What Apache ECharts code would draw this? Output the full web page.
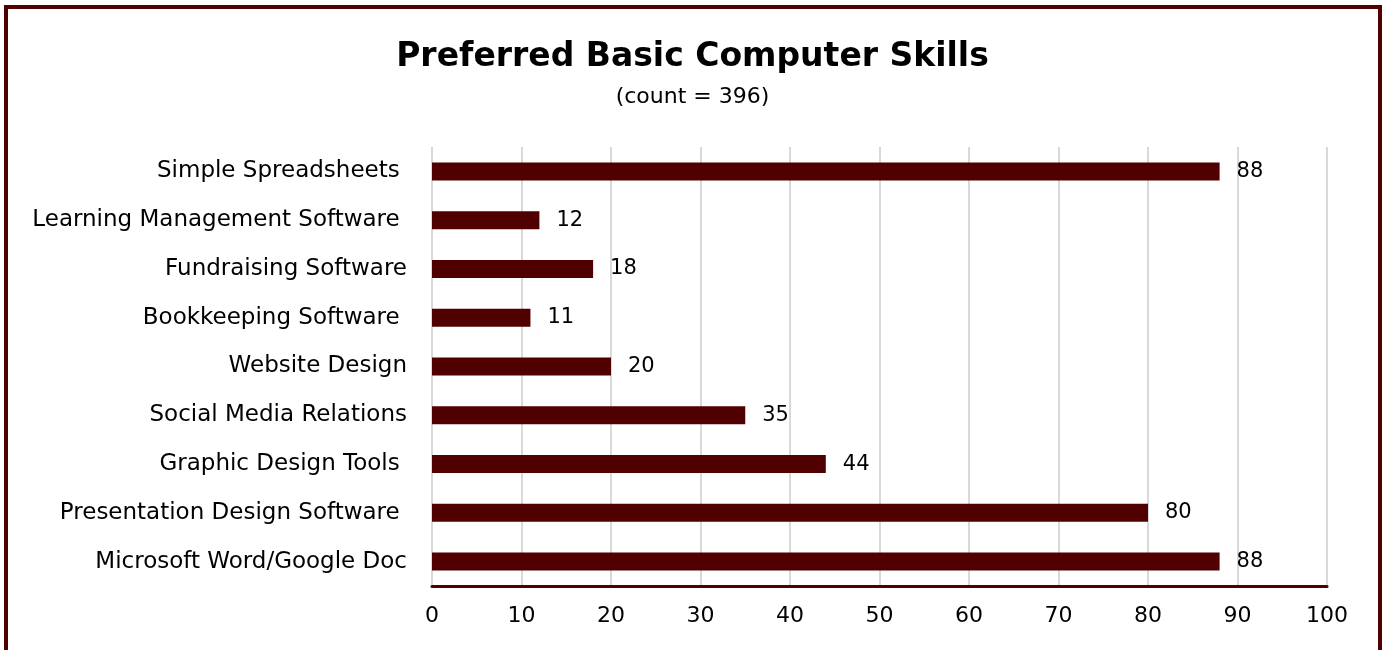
<!DOCTYPE html>
<html>
<head>
<meta charset="utf-8">
<script src="https://cdn.jsdelivr.net/npm/echarts@6/dist/echarts.min.js"></script>
<style>
  html, body { margin: 0; padding: 0; background: #fff; }
  #chart { width: 1385px; height: 650px; }
</style>
</head>
<body>
<div id="chart"></div>
<script>
// Skills listed bottom-to-top as they stack on the category axis
const skills = [
  "Microsoft Word/Google Doc",
  "Presentation Design Software ",
  "Graphic Design Tools ",
  "Social Media Relations",
  "Website Design",
  "Bookkeeping Software ",
  "Fundraising Software",
  "Learning Management Software ",
  "Simple Spreadsheets "
];
const counts = [88, 80, 44, 35, 20, 11, 18, 12, 88];
const titleText = "Preferred Basic Computer Skills";
const subtitleText = "(count = 396)";

const maroon = "#500000";
const fontFamily = "'DejaVu Sans', sans-serif";

const chart = echarts.init(document.getElementById("chart"));
chart.setOption({
  backgroundColor: "#fff",
  animation: false,
  title: {
    text: titleText,
    subtext: subtitleText,
    left: "center",
    top: 36,
    itemGap: 12,
    textStyle: { fontFamily, fontSize: 33, fontWeight: "bold", color: "#000" },
    subtextStyle: { fontFamily, fontSize: 22, color: "#000" }
  },
  graphic: [{
    type: "rect",
    shape: { x: 6, y: 7, width: 1374, height: 660 },
    style: { fill: null, stroke: maroon, lineWidth: 4 },
    silent: true
  }],
  grid: { left: 432, right: 58, top: 147, bottom: 64, containLabel: false },
  xAxis: {
    type: "value",
    min: 0,
    max: 100,
    interval: 10,
    axisLine: { show: true, lineStyle: { color: maroon, width: 3 } },
    axisTick: { show: false },
    axisLabel: { fontFamily, fontSize: 22, color: "#000", margin: 19 },
    splitLine: { show: true, lineStyle: { color: "#d9d9d9", width: 2 } }
  },
  yAxis: {
    type: "category",
    data: skills,
    axisLine: { show: false },
    axisTick: { show: false },
    axisLabel: { fontFamily, fontSize: 23, color: "#000", margin: 25 }
  },
  series: [{
    type: "bar",
    data: counts,
    barWidth: 18,
    itemStyle: { color: maroon },
    label: {
      show: true,
      position: "right",
      distance: 17,
      fontFamily,
      fontSize: 21,
      color: "#000"
    }
  }]
});
</script>
</body>
</html>
